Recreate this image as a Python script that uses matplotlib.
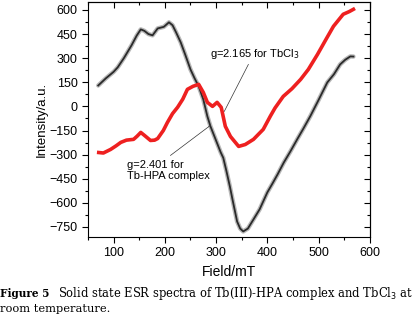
import matplotlib
matplotlib.use('Agg')
import matplotlib.pyplot as plt
from matplotlib.ticker import MultipleLocator

# black trace (x in mT, intensity in a.u.)
black_x = [70, 85, 100, 108, 120, 135, 145, 153, 160, 168, 176, 186, 198, 208,
           215, 222, 231, 240, 250, 258, 266, 275, 283, 289, 299, 309, 314, 320,
           327, 332, 341, 347, 353, 362, 373, 385, 400, 410, 420, 432, 445, 460,
           470, 484, 500, 517, 530, 542, 552, 562, 568]
black_y = [130, 175, 215, 243, 300, 380, 440, 479, 470, 450, 442, 485, 495, 523,
           505, 460, 398, 320, 230, 175, 125, 44, -62, -124, -205, -286, -320, -400,
           -500, -579, -716, -760, -778, -760, -703, -640, -535, -480, -423, -350,
           -280, -195, -140, -60, 40, 149, 200, 261, 290, 311, 310]

# red trace
red_x = [71, 80, 94, 105, 114, 125, 139, 146, 153, 160, 172, 180, 186, 197, 205,
         215, 225, 235, 244, 255, 266, 275, 283, 293, 302, 310, 318, 328, 344,
         357, 373, 392, 406, 415, 431, 448, 465, 480, 498, 515, 529, 548, 560, 568]
red_y = [-287, -290, -268, -245, -224, -210, -205, -185, -162, -180, -212, -210,
         -200, -150, -100, -45, -5, 45, 106, 125, 137, 87, 25, 0, 25, -6, -124,
         -187, -249, -237, -205, -143, -60, -10, 62, 110, 168, 230, 324, 420, 498,
         573, 590, 604]

xticks = [100, 200, 300, 400, 500, 600]
yticks = [600, 450, 300, 150, 0, -150, -300, -450, -600, -750]

plt.rcParams['font.family'] = ['Liberation Sans', 'DejaVu Sans']

fig = plt.figure(figsize=(4.16, 3.18), dpi=100)
ax = fig.add_axes([0.2115, 0.255, 0.889 - 0.2115, 0.994 - 0.255])

ax.plot(black_x, black_y, color='#9a9a9a', lw=3.2, alpha=0.7, solid_capstyle='round')
ax.plot(black_x, black_y, color='#2a2a2a', lw=1.3)
ax.plot(red_x, red_y, color='#ee2020', lw=2.6)

# pointer lines for the g values
ax.plot([363, 316], [261, -31], color='#333333', lw=0.5)
ax.plot([211, 289], [-305, -118], color='#333333', lw=0.5)
ax.text(289, 323, 'g=2.165 for TbCl$_3$', fontsize=8, va='center')
ax.text(127, -398, 'g=2.401 for\nTb-HPA complex', fontsize=8, va='center',
        linespacing=1.1)

ax.set_xlim(50, 600)
ax.set_ylim(-812, 650)
ax.set_xticks(xticks)
ax.set_yticks(yticks)
ax.xaxis.set_minor_locator(MultipleLocator(50))
ax.yaxis.set_minor_locator(MultipleLocator(75))
ax.tick_params(which='major', direction='out', length=4, width=0.8, labelsize=9)
ax.tick_params(which='minor', direction='out', length=2.5, width=0.8)

top = ax.secondary_xaxis('top')
top.set_xticks(xticks)
top.xaxis.set_minor_locator(MultipleLocator(50))
top.tick_params(which='both', direction='in', labeltop=False, width=0.8)
top.tick_params(which='major', length=4)
top.tick_params(which='minor', length=2.5)
right = ax.secondary_yaxis('right')
right.set_yticks(yticks)
right.yaxis.set_minor_locator(MultipleLocator(75))
right.tick_params(which='both', direction='in', labelright=False, width=0.8)
right.tick_params(which='major', length=4)
right.tick_params(which='minor', length=2.5)
for s in ax.spines.values():
    s.set_linewidth(0.8)

ax.set_xlabel('Field/mT', fontsize=10, labelpad=4)
ax.set_ylabel('Intensity/a.u.', fontsize=9.5, labelpad=1)

# caption
fig.text(0.0, 1 - 297 / 318, 'Figure 5', fontsize=7.6, family='DejaVu Serif',
         fontweight='bold')
fig.text(58 / 416, 1 - 297 / 318,
         'Solid state ESR spectra of Tb(III)-HPA complex and TbCl$_3$ at',
         fontsize=8.3, family='DejaVu Serif')
fig.text(0.0, 1 - 312 / 318, 'room temperature.', fontsize=8.2,
         family='DejaVu Serif')

fig.savefig('out.png', dpi=100)
